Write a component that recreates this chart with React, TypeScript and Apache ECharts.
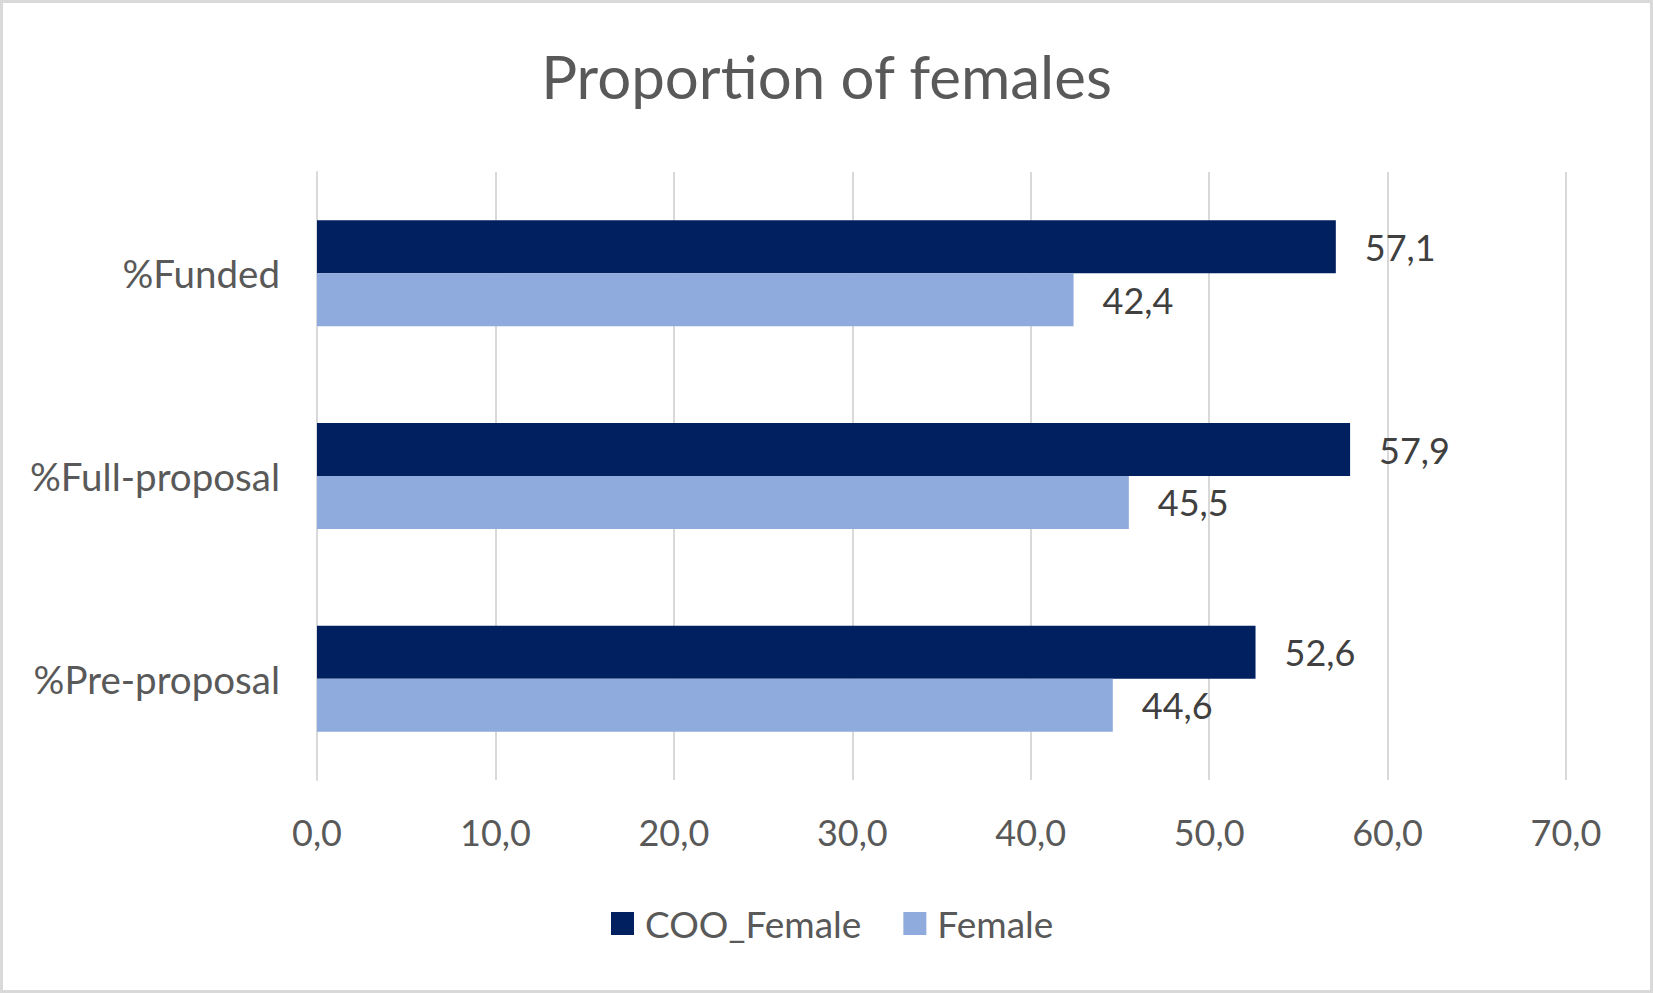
import React, { useEffect, useRef } from "react";
import * as echarts from "echarts";

const categories = ["%Funded", "%Full-proposal", "%Pre-proposal"];
const cooFemale = [57.1, 57.9, 52.6];
const female = [42.4, 45.5, 44.6];
const seriesNames = ["COO_Female", "Female"];
const titleText = "Proportion of females";

const fmt = (v: number) => v.toFixed(1).replace(".", ",");

export default function App() {
  const ref = useRef<HTMLDivElement>(null);
  useEffect(() => {
    document.body.style.margin = "0";
    const chart = echarts.init(ref.current!, null, { renderer: "svg" });
    const font = "Lato";
    chart.setOption({
      animation: false,
      backgroundColor: "#ffffff",
      title: {
        text: titleText,
        left: "center",
        top: 41,
        textStyle: { fontFamily: font, fontSize: 60, fontWeight: "normal", color: "#595959" },
      },
      graphic: [
        {
          type: "rect",
          shape: { x: 1.5, y: 1.5, width: 1650, height: 990 },
          style: { fill: "none", stroke: "#D9D9D9", lineWidth: 3 },
          silent: true,
        },
      ],
      legend: {
        data: seriesNames,
        left: 606,
        top: 900,
        itemWidth: 23,
        itemHeight: 23,
        itemGap: 42,
        icon: "rect",
        textStyle: { fontFamily: font, fontSize: 37, color: "#595959", padding: [0, 0, 0, 6] },
      },
      grid: { left: 317, right: 87, top: 172, bottom: 213, containLabel: false },
      xAxis: {
        type: "value",
        min: 0,
        max: 70,
        interval: 10,
        axisLine: { show: false },
        axisTick: { show: false },
        splitLine: { lineStyle: { color: "#D9D9D9", width: 2 } },
        axisLabel: {
          formatter: (v: number) => fmt(v),
          fontFamily: font,
          fontSize: 36,
          color: "#595959",
          margin: 34,
        },
      },
      yAxis: {
        type: "category",
        data: categories,
        inverse: true,
        axisLine: { show: true, lineStyle: { color: "#D9D9D9", width: 2 } },
        axisTick: { show: false },
        axisLabel: { fontFamily: font, fontSize: 38.5, color: "#595959", margin: 37 },
      },
      series: [
        {
          name: seriesNames[0],
          type: "bar",
          data: cooFemale,
          barGap: "0%",
          barCategoryGap: "47.7%",
          itemStyle: { color: "#002060" },
          label: {
            show: true,
            position: "right",
            distance: 29,
            formatter: (p: any) => fmt(p.value),
            fontFamily: font,
            fontSize: 36,
            color: "#404040",
          },
        },
        {
          name: seriesNames[1],
          type: "bar",
          data: female,
          barGap: "0%",
          barCategoryGap: "47.7%",
          itemStyle: { color: "#8FAADC" },
          label: {
            show: true,
            position: "right",
            distance: 29,
            formatter: (p: any) => fmt(p.value),
            fontFamily: font,
            fontSize: 36,
            color: "#404040",
          },
        },
      ],
    });
    return () => chart.dispose();
  }, []);
  return <div ref={ref} style={{ width: 1653, height: 993 }} />;
}
